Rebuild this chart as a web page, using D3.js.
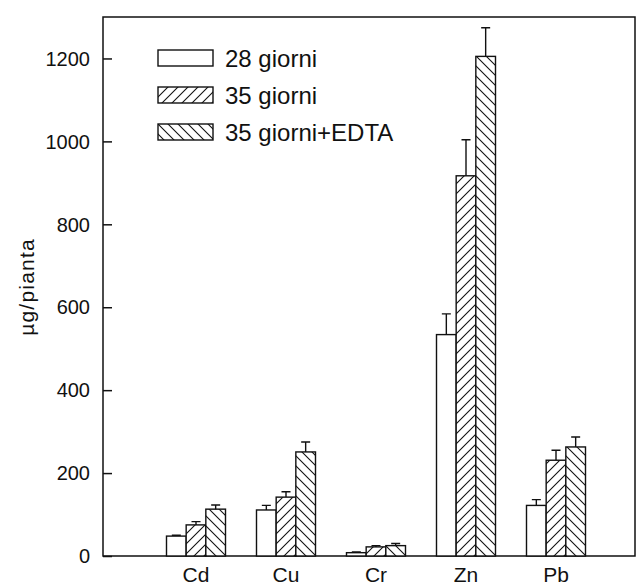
<!DOCTYPE html>
<html>
<head>
<meta charset="utf-8">
<script src="https://cdn.jsdelivr.net/npm/d3@7"></script>
<style>
  body { margin: 0; background: #fff; }
  text { font-family: "Liberation Sans", Arial, sans-serif; fill: #111; }
</style>
</head>
<body>
<div id="chart"></div>
<script>
// data
var categories = ['Cd', 'Cu', 'Cr', 'Zn', 'Pb'];
var series = ['28 giorni', '35 giorni', '35 giorni+EDTA'];
var g28 = [48, 111, 8, 534, 122];
var g28Err = [2, 11, 2, 50, 14];
var g35 = [75, 142, 22, 917, 231];
var g35Err = [8, 13, 3, 87, 24];
var edta = [113, 251, 25, 1205, 263];
var edtaErr = [10, 24, 5, 69, 24];
var yTicks = [0, 200, 400, 600, 800, 1000, 1200];

var width = 636,
  height = 588,
  plotLeft = 103,
  plotTop = 17,
  plotBottom = 556,
  plotRight = 635;

var values = [g28, g35, edta];
var errs = [g28Err, g35Err, edtaErr];
var fills = ['#fff', 'url(#hatchFwd)', 'url(#hatchBack)'];

var svg = d3.select('#chart').append('svg')
  .attr('width', width)
  .attr('height', height);

var defs = svg.append('defs');
function hatch(id, d) {
  var p = defs.append('pattern')
    .attr('id', id)
    .attr('patternUnits', 'userSpaceOnUse')
    .attr('width', 10)
    .attr('height', 10);
  p.append('rect').attr('width', 10).attr('height', 10).attr('fill', '#fff');
  p.append('path')
    .attr('d', d)
    .attr('stroke', '#111')
    .attr('stroke-width', 1.1)
    .attr('fill', 'none');
}
hatch('hatchFwd', 'M-2,2 L2,-2 M0,10 L10,0 M8,12 L12,8');
hatch('hatchBack', 'M-2,8 L2,12 M0,0 L10,10 M8,-2 L12,2');

var y = d3.scaleLinear().domain([0, 1300]).range([plotBottom, plotTop]);
var x = d3.scalePoint().domain(categories).range([196, 556]);
var xs = d3.scaleBand().domain(series).range([-29.5, 29.5]);

// frame
svg.append('path')
  .attr('d', 'M' + plotLeft + ',' + plotBottom + 'V' + plotTop + 'H' + plotRight + 'V' + plotBottom + 'Z')
  .attr('fill', 'none')
  .attr('stroke', '#111')
  .attr('stroke-width', 1.5);

// y axis, ticks drawn inside the frame
var yAxis = d3.axisRight(y).tickValues(yTicks).tickSize(9).tickFormat('');
var ya = svg.append('g').attr('transform', 'translate(' + plotLeft + ',0)').call(yAxis);
ya.select('.domain').remove();
ya.selectAll('line').attr('stroke', '#111').attr('stroke-width', 1.5);

svg.append('g').selectAll('text')
  .data(yTicks)
  .join('text')
  .attr('x', 90)
  .attr('y', function(d) { return y(d); })
  .attr('dy', '0.36em')
  .attr('text-anchor', 'end')
  .style('font-size', '20px')
  .text(function(d) { return d; });

svg.append('text')
  .attr('transform', 'translate(34,287) rotate(-90)')
  .attr('text-anchor', 'middle')
  .style('font-size', '21px')
  .style('letter-spacing', '1.2px')
  .text('µg/pianta');

// bars
series.forEach(function(s, i) {
  var g = svg.append('g');
  g.selectAll('rect')
    .data(categories)
    .join('rect')
    .attr('x', function(c) { return x(c) + xs(s); })
    .attr('width', xs.bandwidth())
    .attr('y', function(c, j) { return y(values[i][j]); })
    .attr('height', function(c, j) { return y(0) - y(values[i][j]); })
    .attr('fill', fills[i])
    .attr('stroke', '#111')
    .attr('stroke-width', 1.4);

  // error bars
  var cx = function(c) { return x(c) + xs(s) + xs.bandwidth() / 2; };
  g.selectAll('path.err')
    .data(categories)
    .join('path')
    .attr('class', 'err')
    .attr('d', function(c, j) {
      var t = y(values[i][j] + errs[i][j]), base = y(values[i][j]);
      return 'M' + cx(c) + ',' + base + 'V' + t + 'M' + (cx(c) - 4.5) + ',' + t + 'H' + (cx(c) + 4.5);
    })
    .attr('stroke', '#111')
    .attr('stroke-width', 1.4)
    .attr('fill', 'none');
});

// category labels
svg.append('g').selectAll('text')
  .data(categories)
  .join('text')
  .attr('x', function(c) { return x(c); })
  .attr('y', 582)
  .attr('text-anchor', 'middle')
  .style('font-size', '21px')
  .text(function(c) { return c; });

// legend
var legend = svg.append('g').selectAll('g')
  .data(series)
  .join('g')
  .attr('transform', function(d, i) { return 'translate(158,' + (50 + i * 37) + ')'; });
legend.append('rect')
  .attr('width', 55)
  .attr('height', 16)
  .attr('fill', function(d, i) { return fills[i]; })
  .attr('stroke', '#111')
  .attr('stroke-width', 1.4);
legend.append('text')
  .attr('x', 67)
  .attr('y', 17)
  .style('font-size', '24px')
  .text(function(d) { return d; });
</script>
</body>
</html>
